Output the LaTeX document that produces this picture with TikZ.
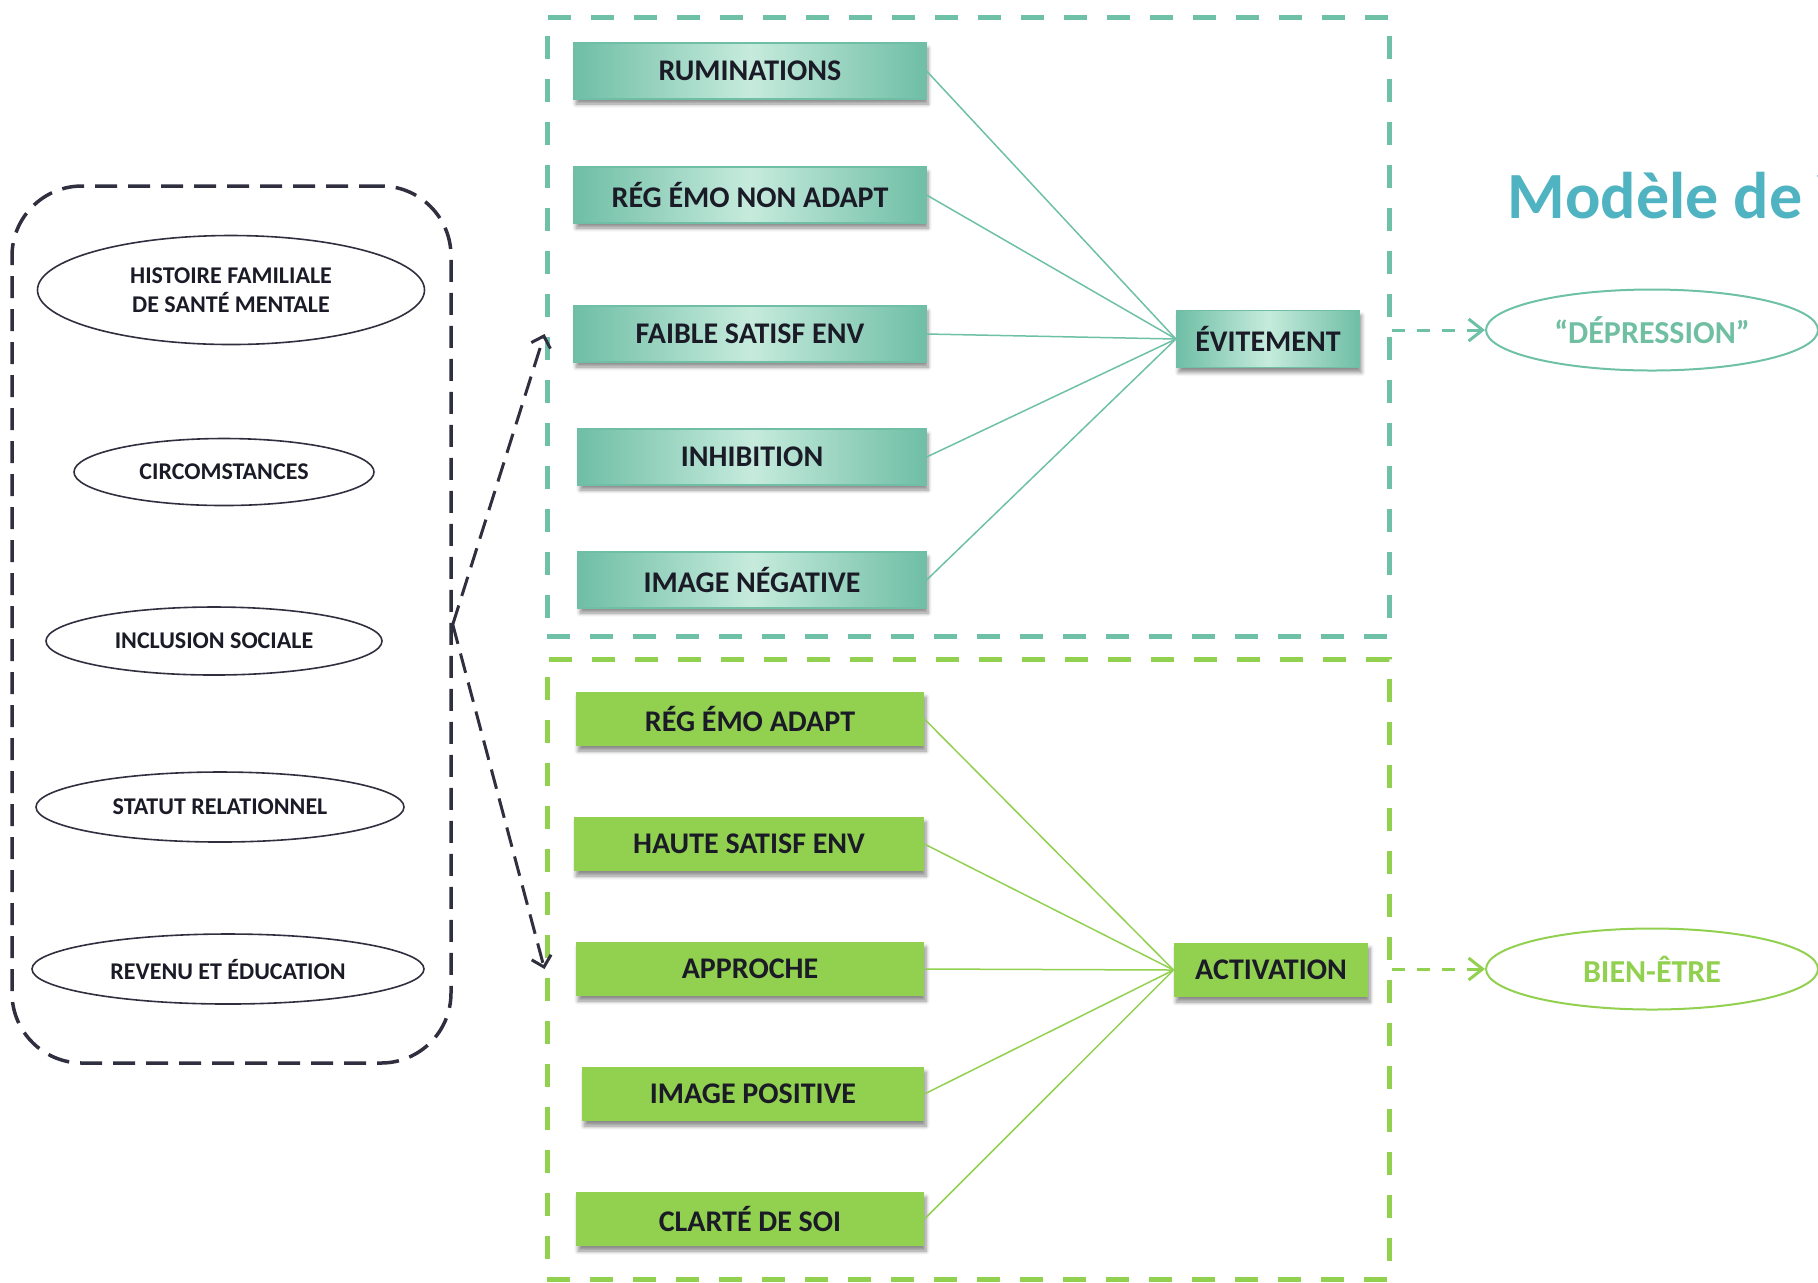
\documentclass[tikz,border=0pt]{standalone}
\usepackage{fontspec}
\setmainfont{Carlito}
\usetikzlibrary{shapes.geometric,arrows.meta,shadows.blur}
\definecolor{tealEdge}{HTML}{6FBEA5}
\definecolor{tealMid}{HTML}{C6EBDD}
\definecolor{tealLine}{HTML}{6EC0A6}
\definecolor{tealText}{HTML}{70BFA3}
\definecolor{greenBox}{HTML}{92D050}
\definecolor{darkLine}{HTML}{2F2F3F}
\definecolor{darkText}{HTML}{1B1B27}
\definecolor{titleBlue}{HTML}{4FB3C1}

\begin{document}
\begin{tikzpicture}[x=0.5pt,y=-0.5pt,
  factor/.style={ellipse,draw=darkLine,line width=0.8pt,inner sep=0pt,text=darkText,align=center,font=\bfseries\fontsize{12}{14.5}\selectfont},
  shade box/.style={inner sep=0pt,text=darkText,font=\bfseries\fontsize{15}{18}\selectfont,blur shadow={shadow xshift=1pt,shadow yshift=-2.5pt,shadow blur steps=6,shadow opacity=45}},
  negbox/.style={shade box,draw=tealEdge,line width=0.6pt,left color=tealEdge,right color=tealEdge,middle color=tealMid,minimum height=28pt},
  posbox/.style={shade box,fill=greenBox,minimum height=27pt},
  frame/.style={draw,line width=2.5pt,dash pattern=on 11.5pt off 10pt,inner sep=0pt},
  outcome/.style={ellipse,line width=1pt,inner sep=0pt,minimum width=166pt,minimum height=40.5pt,font=\bfseries\fontsize{16}{19}\selectfont},
  link/.style={line width=0.75pt},
  leftarrow/.style={draw=darkLine,line width=1.5pt,dash pattern=on 10pt off 5pt,-{Straight Barb[length=5pt,width=10pt]}},
  outarrow/.style={line width=1.5pt,dash pattern=on 6.5pt off 6pt,-{Straight Barb[length=7pt,width=11pt]}}]
\useasboundingbox (0,0) rectangle (1818,1282);

\node[frame,draw=darkLine,line width=1.75pt,dash pattern=on 11pt off 5.5pt,rounded corners=35pt,minimum width=219.5pt,minimum height=438.5pt] (LeftFrame) at (231.5,624.5) {};
\node[frame,draw=tealLine,minimum width=421pt,minimum height=309.5pt] (TopFrame) at (968,326.5) {};
\node[frame,draw=greenBox,minimum width=421pt,minimum height=310pt] (BotFrame) at (968,969) {};

\node[factor,minimum width=193.5pt,minimum height=54.5pt] (Hist) at (231,290) {HISTOIRE FAMILIALE\\DE SANTÉ MENTALE};
\node[factor,minimum width=150pt,minimum height=33.5pt] (Circ) at (224,472) {CIRCOMSTANCES};
\node[factor,minimum width=168pt,minimum height=34pt] (Incl) at (214,641) {INCLUSION SOCIALE};
\node[factor,minimum width=184pt,minimum height=35pt] (Stat) at (220,807) {STATUT RELATIONNEL};
\node[factor,minimum width=196pt,minimum height=35pt] (Rev) at (228,969) {REVENU ET ÉDUCATION};

\node[negbox,minimum width=176pt] (Rum) at (750,71) {RUMINATIONS};
\node[negbox,minimum width=176pt] (RegNon) at (750,195) {RÉG ÉMO NON ADAPT};
\node[negbox,minimum width=176pt] (Faible) at (750,334) {FAIBLE SATISF ENV};
\node[negbox,minimum width=174pt] (Inhib) at (752,457) {INHIBITION};
\node[negbox,minimum width=174pt] (ImNeg) at (752,580) {IMAGE NÉGATIVE};
\node[negbox,minimum width=91.5pt,minimum height=28.5pt] (Evit) at (1268,339) {ÉVITEMENT};

\node[posbox,minimum width=174pt] (RegAd) at (750,719) {RÉG ÉMO ADAPT};
\node[posbox,minimum width=175pt] (Haute) at (749,844) {HAUTE SATISF ENV};
\node[posbox,minimum width=174pt] (Appr) at (750,969) {APPROCHE};
\node[posbox,minimum width=171pt] (ImPos) at (753,1094) {IMAGE POSITIVE};
\node[posbox,minimum width=174pt] (Clar) at (750,1219) {CLARTÉ DE SOI};
\node[posbox,minimum width=97pt] (Activ) at (1271,970) {ACTIVATION};

\node[outcome,draw=tealLine,text=tealText] (Dep) at (1652,330) {“DÉPRESSION”};
\node[outcome,draw=greenBox,text=greenBox] (Bien) at (1652,969) {BIEN-ÊTRE};

\node[anchor=base west,inner sep=0pt,text=titleBlue,font=\bfseries\fontsize{33}{38}\selectfont] (Title) at (1507,218) {Modèle de V};

\foreach \n in {Rum,RegNon,Faible,Inhib,ImNeg}
  \draw[link,tealLine] (\n.east) -- (Evit.west);
\foreach \n in {RegAd,Haute,Appr,ImPos,Clar}
  \draw[link,greenBox] (\n.east) -- (Activ.west);

\draw[leftarrow] (LeftFrame.east) -- (TopFrame.west |- Faible);
\draw[leftarrow] (LeftFrame.east) -- (BotFrame.west |- Appr);
\draw[outarrow,tealLine] (TopFrame.east |- Dep) -- (Dep.west);
\draw[outarrow,greenBox] (BotFrame.east |- Bien) -- (Bien.west);
\end{tikzpicture}
\end{document}
